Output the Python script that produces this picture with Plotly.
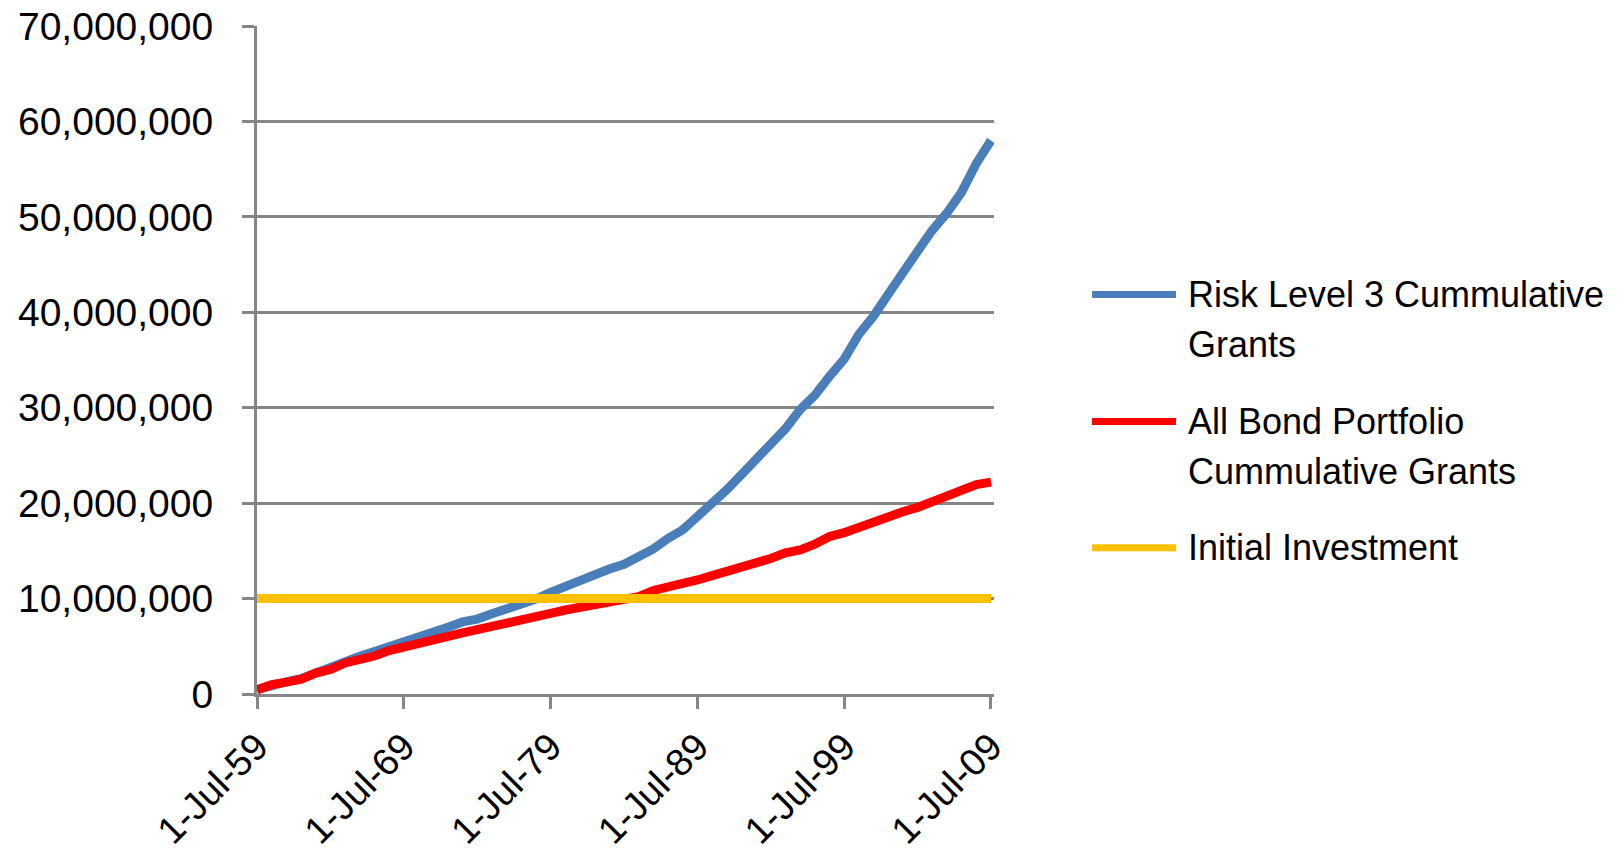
import plotly.graph_objects as go

# Annual observation dates (1 July each year)
years = list(range(1959, 2010))
dates = [f"{y}-07-01" for y in years]

# Cumulative grants, in millions of dollars
risk_level_3 = [
    0.45, 0.98, 1.28, 1.60, 2.25, 2.65, 3.35, 3.95, 4.45, 4.95,
    5.45, 6.00, 6.30, 7.00, 7.55, 7.85, 8.40, 8.95, 9.25, 9.95,
    10.65, 11.30, 11.90, 12.50, 13.10, 13.60, 14.30, 15.20, 16.30, 17.20,
    18.60, 19.90, 21.40, 23.00, 24.60, 26.00, 27.80, 29.80, 31.30, 33.30,
    35.10, 37.70, 39.60, 41.90, 44.30, 46.40, 48.60, 50.40, 52.60, 55.60,
    58.00,
]
all_bond = [
    0.45, 0.98, 1.25, 1.55, 2.20, 2.57, 3.25, 3.60, 3.98, 4.55,
    4.95, 5.40, 5.75, 6.10, 6.40, 6.75, 7.05, 7.38, 7.73, 8.10,
    8.45, 8.80, 9.10, 9.40, 9.65, 9.90, 10.20, 10.85, 11.20, 11.45,
    11.95, 12.40, 12.85, 13.10, 13.55, 14.20, 14.80, 15.10, 15.70, 16.50,
    16.90, 17.50, 18.00, 18.50, 19.10, 19.55, 20.20, 20.85, 21.25, 21.95,
    22.20,
]
initial_investment = [10.0] * len(dates)

series_names = [
    "Risk Level 3 Cummulative Grants",
    "All Bond Portfolio Cummulative Grants",
    "Initial Investment",
]
legend_lines = [
    ["Risk Level 3 Cummulative", "Grants"],
    ["All Bond Portfolio", "Cummulative Grants"],
    ["Initial Investment"],
]
colors = ["#4A7EBB", "#FF0000", "#FFC000"]

tick_dates = ["1959-07-01", "1969-07-01", "1979-07-01",
              "1989-07-01", "1999-07-01", "2009-07-01"]
y_ticks = [0, 10_000_000, 20_000_000, 30_000_000, 40_000_000,
           50_000_000, 60_000_000, 70_000_000]

FONT = "Liberation Sans, Arial, sans-serif"
GRID = "#868686"

fig = go.Figure()
for name, vals, col in zip(series_names,
                           [risk_level_3, all_bond, initial_investment],
                           colors):
    fig.add_trace(go.Scatter(
        x=dates, y=[v * 1_000_000 for v in vals], name=name,
        mode="lines", line=dict(color=col, width=9),
        showlegend=False,
    ))

# Legend drawn beside the plot: a line sample and wrapped label per series
legend_y = [0.598, 0.408, 0.219]
line_step = 0.0745
for col, lines, y0 in zip(colors, legend_lines, legend_y):
    fig.add_shape(type="line", xref="paper", yref="paper",
                  x0=1.133, x1=1.247, y0=y0, y1=y0,
                  line=dict(color=col, width=7))
    for k, txt in enumerate(lines):
        fig.add_annotation(xref="paper", yref="paper",
                           x=1.2605, y=y0 - k * line_step,
                           xanchor="left", yanchor="middle",
                           text=txt, showarrow=False,
                           font=dict(family=FONT, size=36, color="black"))

fig.update_layout(
    width=1622, height=856, autosize=False,
    margin=dict(l=257, r=628, t=26, b=162),
    paper_bgcolor="white", plot_bgcolor="white",
    font=dict(family=FONT, size=38, color="black"),
    showlegend=False,
)
fig.update_xaxes(
    type="date", range=["1959-07-01", "2009-09-14"],
    tickvals=tick_dates, tickformat="%-d-%b-%y", tickangle=-45,
    showgrid=False, zeroline=False, automargin=False,
    showline=True, linecolor=GRID, linewidth=3,
    ticks="outside", ticklen=12, tickwidth=3, tickcolor=GRID,
    tickfont=dict(family=FONT, size=38, color="black"),
)
fig.update_yaxes(
    range=[0, 70_000_000], tickvals=y_ticks, tickformat=",d",
    showgrid=True, gridcolor=GRID, gridwidth=2.5, zeroline=False,
    automargin=False,
    showline=True, linecolor=GRID, linewidth=3,
    ticks="outside", ticklen=12, tickwidth=3, tickcolor=GRID,
    ticklabelstandoff=21,
    tickfont=dict(family=FONT, size=39, color="black"),
)

fig.write_html("out.html")
